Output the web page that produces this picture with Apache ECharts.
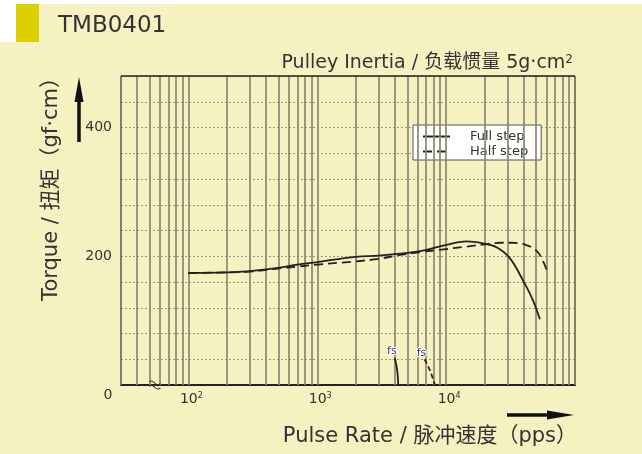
<!DOCTYPE html>
<html>
<head>
<meta charset="utf-8">
<script src="https://cdn.jsdelivr.net/npm/echarts@6/dist/echarts.min.js"></script>
<style>
html,body{margin:0;padding:0;background:#ffffff;}
#c{width:642px;height:454px;}
</style>
</head>
<body>
<div id="c"></div>
<script>
// ---- data ----
const fullRate   = [100, 200, 300, 500, 700, 1000, 1500, 2000, 3000, 4400, 6300, 8500, 10700, 14400, 19300, 24600, 31200, 39400, 47100, 53400];
const fullTorque = [174, 175, 177, 182, 187, 191, 196, 199, 201, 204, 208, 214, 219, 223, 220, 214, 197, 163, 132, 102];
const halfRate   = [100, 200, 300, 500, 700, 1000, 1500, 2000, 3000, 4400, 6600, 8900, 14500, 20700, 26100, 32900, 42300, 50600, 56300, 60500];
const halfTorque = [174, 175, 176, 181, 184, 187, 190, 192, 196, 202, 207, 210, 215, 219, 221, 221, 217, 208, 193, 178];
const fsFullRate   = [4000, 4170, 4250];
const fsFullTorque = [42, 23, 0];
const fsHalfRate   = [6800, 7480, 8200];
const fsHalfTorque = [40, 23, 0];
const yTickLabels  = [200, 400];
const xGridLines   = [40, 50, 60, 70, 80, 90,
                      100, 200, 300, 400, 500, 600, 700, 800, 900,
                      1000, 2000, 3000, 4000, 5000, 6000, 7000, 8000, 9000,
                      10000, 20000, 30000, 40000, 50000, 60000, 70000, 80000, 90000];
const xBorders = [30, 100000];

const zip = (a, b) => a.map((v, i) => [v, b[i]]);
const FONT = '"DejaVu Sans", "Noto Sans CJK SC", sans-serif';
const gridColor = '#8b8671';
const fsLabel = {
  show: true, position: 'top', formatter: 'fs', distance: 1, offset: [-3, 0],
  fontFamily: FONT, fontSize: 11, color: '#2f3a5e', textBorderColor: '#ffffff', textBorderWidth: 2
};

const chart = echarts.init(document.getElementById('c'), null, {renderer: 'canvas'});

const option = {
  animation: false,
  backgroundColor: 'transparent',
  textStyle: {fontFamily: FONT},
  title: [
    {text: 'TMB0401', left: 53, top: 10, textStyle: {fontFamily: FONT, fontSize: 23, fontWeight: 'normal', color: '#333'}},
    {
      text: '{t|Pulley Inertia / 负载惯量 5g·cm}{s|2}',
      right: 64, top: 49,
      textStyle: {
        fontWeight: 'normal',
        rich: {
          t: {fontFamily: FONT, fontSize: 19, fontWeight: 'normal', color: '#333', verticalAlign: 'bottom'},
          s: {fontFamily: FONT, fontSize: 12, fontWeight: 'normal', color: '#333', verticalAlign: 'top'}
        }
      }
    }
  ],
  legend: {
    data: ['Full step', 'Half step'],
    orient: 'vertical',
    left: 413, top: 125,
    backgroundColor: '#ffffff',
    borderColor: '#555',
    borderWidth: 1,
    borderRadius: 0,
    padding: [5, 13, 2, 9],
    itemWidth: 27, itemHeight: 13, itemGap: 2,
    itemStyle: {opacity: 0},
    textStyle: {fontFamily: FONT, fontSize: 13, color: '#333', padding: [0, 0, 0, 15]}
  },
  grid: {left: 121, right: 67, top: 76, bottom: 69, containLabel: false},
  xAxis: {
    type: 'log', logBase: 10, min: 30, max: 100000,
    axisLine: {show: true, lineStyle: {color: '#222', width: 2}},
    axisTick: {show: false},
    splitLine: {show: false},
    minorTick: {show: false},
    axisLabel: {
      margin: 7,
      formatter: function (v) {
        const e = Math.log10(v), r = Math.round(e);
        if (Math.abs(e - r) < 1e-6 && r >= 2 && r <= 4) return '{b|10}{s|' + r + '}';
        return '';
      },
      rich: {
        b: {fontFamily: FONT, fontSize: 14, color: '#333', verticalAlign: 'bottom', padding: [0, 0, 0, 6]},
        s: {fontFamily: FONT, fontSize: 8, color: '#333', verticalAlign: 'top'}
      }
    }
  },
  yAxis: {
    type: 'value', min: 0, max: 480, interval: 40,
    axisLine: {show: false},
    axisTick: {show: false},
    axisLabel: {
      margin: 9, fontFamily: FONT, fontSize: 14, color: '#333',
      formatter: v => (yTickLabels.indexOf(v) >= 0 ? String(v) : '')
    },
    splitLine: {show: true, lineStyle: {color: '#9a9680', type: [2, 2], width: 1}}
  },
  graphic: [
    {type: 'rect', z: -10, shape: {x: 0, y: 4, width: 642, height: 450}, style: {fill: '#f6f1c0'}},
    {type: 'rect', z: -9, shape: {x: 0, y: 4, width: 16, height: 38}, style: {fill: '#ffffff'}},
    {type: 'rect', z: -8, shape: {x: 16, y: 4, width: 23, height: 38}, style: {fill: '#ddd000'}},
    {type: 'text', x: 52, y: 184, rotation: Math.PI / 2,
      style: {text: 'Torque / 扭矩（gf·cm）', fontFamily: FONT, fontSize: 21, fill: '#333', textAlign: 'center', textVerticalAlign: 'middle'}},
    {type: 'text', x: 577, y: 437,
      style: {text: 'Pulse Rate / 脉冲速度（pps）', fontFamily: FONT, fontSize: 21, fill: '#333', textAlign: 'right', textVerticalAlign: 'middle'}},
    {type: 'text', x: 108, y: 395,
      style: {text: '0', fontFamily: FONT, fontSize: 14, fill: '#333', textAlign: 'center', textVerticalAlign: 'middle'}},
    {type: 'line', shape: {x1: 79, y1: 142, x2: 79, y2: 98}, style: {stroke: '#111', lineWidth: 3.5}},
    {type: 'polygon', shape: {points: [[74.5, 102], [83.5, 102], [79, 77]]}, style: {fill: '#111'}},
    {type: 'line', shape: {x1: 507, y1: 415, x2: 552, y2: 415}, style: {stroke: '#111', lineWidth: 3.5}},
    {type: 'polygon', shape: {points: [[547, 410.5], [547, 419.5], [574, 415]]}, style: {fill: '#111'}}
  ],
  series: [
    {
      name: 'grid', type: 'line', z: 1, silent: true,
      data: [[100, 174]], symbol: 'none', lineStyle: {opacity: 0},
      markLine: {
        silent: true, symbol: 'none', animation: false,
        label: {show: false},
        lineStyle: {color: gridColor, type: 'solid', width: 1.7},
        data: xGridLines.map(v => ({xAxis: v}))
          .concat(xBorders.map(v => ({xAxis: v, lineStyle: {color: '#75715d', width: 1.8, type: 'solid'}})))
          .concat([{yAxis: 480, lineStyle: {color: '#222', width: 1.6, type: 'solid'}}])
      },
      markPoint: {
        silent: true,
        data: [{coord: [55, 0], symbol: 'path://M0,3 C3,0 5,7 9,4 M0,6 C3,3 5,10 9,7', symbolSize: [11, 8],
          itemStyle: {color: 'none', borderColor: '#333', borderWidth: 1}, label: {show: false}}]
      }
    },
    {
      name: 'Full step', type: 'line', z: 5, smooth: 0.35, symbol: 'none',
      data: zip(fullRate, fullTorque),
      lineStyle: {color: '#222', width: 1.8, type: 'solid'},
      itemStyle: {color: '#222'}
    },
    {
      name: 'Half step', type: 'line', z: 5, smooth: 0.35, symbol: 'none',
      data: zip(halfRate, halfTorque),
      lineStyle: {color: '#222', width: 1.8, type: [9, 5]},
      itemStyle: {color: '#222'}
    },
    {
      name: 'fs full', type: 'line', z: 5, smooth: 0.4, symbol: 'none',
      data: zip(fsFullRate, fsFullTorque),
      lineStyle: {color: '#222', width: 1.8, type: 'solid'},
      markPoint: {silent: true, symbol: 'circle', symbolSize: 0, label: fsLabel,
        data: [{coord: [fsFullRate[0], fsFullTorque[0]]}]}
    },
    {
      name: 'fs half', type: 'line', z: 5, smooth: 0.3, symbol: 'none',
      data: zip(fsHalfRate, fsHalfTorque),
      lineStyle: {color: '#222', width: 1.8, type: [5, 3]},
      markPoint: {silent: true, symbol: 'circle', symbolSize: 0, label: fsLabel,
        data: [{coord: [fsHalfRate[0], fsHalfTorque[0]]}]}
    }
  ]
};
chart.setOption(option);
</script>
</body>
</html>
